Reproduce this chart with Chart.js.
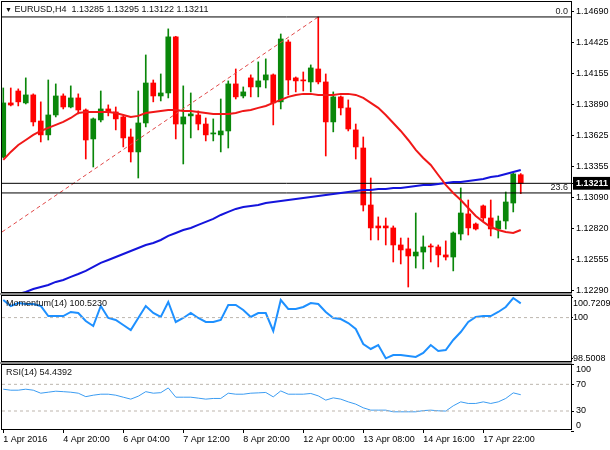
<!DOCTYPE html>
<html>
<head>
<meta charset="utf-8">
<title>EURUSD H4</title>
<script src="https://cdn.jsdelivr.net/npm/chart.js"></script>
<style>
  body { margin: 0; background: #fff; }
  #wrap { position: relative; width: 610px; height: 450px; overflow: hidden; font-family: "Liberation Sans", Arial, sans-serif; }
  canvas { position: absolute; left: 0; }
  .split { position: absolute; left: 0; width: 572px; height: 2px; background: #8c8c8c; }
  .lbl { position: absolute; font-size: 9px; line-height: 11px; color: #111; white-space: pre; }
</style>
</head>
<body>
<div id="wrap">
  <div class="split" style="top:293px"></div>
  <div class="split" style="top:362px"></div>
  <canvas id="main" width="610" height="297" style="top:0"></canvas>
  <canvas id="mom" width="610" height="68" style="top:295px"></canvas>
  <canvas id="rsi" width="610" height="86" style="top:364px"></canvas>
  <div class="lbl" id="mainTitle" style="left:5px;top:4px"></div>
  <div class="lbl" id="momTitle" style="left:6px;top:298px"></div>
  <div class="lbl" id="rsiTitle" style="left:6px;top:367px"></div>
</div>
<script>
// EURUSD H4, 70 bars, 1 Apr 16:00 -> 18 Apr 2016
var symbol = 'EURUSD,H4';

var opens = [
  1.13439, 1.13905, 1.14008, 1.13905, 1.13974, 1.13749, 1.13629, 1.13801, 1.13965, 1.13870,
  1.13948, 1.13844, 1.13594, 1.13758, 1.13853, 1.13827, 1.13784, 1.13611, 1.13482, 1.13732,
  1.14077, 1.13965, 1.13991, 1.14475, 1.13723, 1.13793, 1.13801, 1.13723, 1.13637, 1.13629,
  1.13663, 1.14069, 1.13965, 1.14121, 1.14043, 1.14103, 1.14147, 1.13914, 1.14431, 1.14121,
  1.14103, 1.14086, 1.14198, 1.14086, 1.13741, 1.13957, 1.13862, 1.13672, 1.13516, 1.13024,
  1.12843, 1.12843, 1.12826, 1.12679, 1.12645, 1.12584, 1.12618, 1.12670, 1.12662, 1.12593,
  1.12575, 1.12774, 1.12947, 1.12860, 1.13016, 1.12912, 1.12817, 1.12886, 1.13041, 1.13285
];
var highs = [
  1.14034, 1.14034, 1.14026, 1.14121, 1.13983, 1.13914, 1.14103, 1.14069, 1.13983, 1.14052,
  1.13983, 1.13853, 1.13775, 1.14008, 1.13888, 1.13870, 1.13793, 1.13680, 1.14008, 1.14319,
  1.14103, 1.14155, 1.14544, 1.14480, 1.14052, 1.13991, 1.13836, 1.13775, 1.13767, 1.13939,
  1.14095, 1.14198, 1.14043, 1.14147, 1.14259, 1.14285, 1.14155, 1.14500, 1.14449, 1.14129,
  1.14172, 1.14233, 1.14647, 1.14155, 1.14000, 1.13965, 1.13931, 1.13723, 1.13611, 1.13257,
  1.12921, 1.12912, 1.12843, 1.12739, 1.12739, 1.12955, 1.12757, 1.12688, 1.12679, 1.12714,
  1.12791, 1.13171, 1.13067, 1.12869, 1.13024, 1.13067, 1.12929, 1.13136, 1.13300, 1.13295
];
var lows = [
  1.13430, 1.13879, 1.13879, 1.13896, 1.13706, 1.13568, 1.13585, 1.13784, 1.13853, 1.13862,
  1.13810, 1.13421, 1.13352, 1.13741, 1.13793, 1.13672, 1.13525, 1.13395, 1.13257, 1.13698,
  1.13914, 1.13922, 1.13948, 1.13594, 1.13378, 1.13603, 1.13672, 1.13577, 1.13577, 1.13482,
  1.13516, 1.13939, 1.13948, 1.13957, 1.13957, 1.14034, 1.13715, 1.13853, 1.13974, 1.14000,
  1.14008, 1.14000, 1.14069, 1.13447, 1.13655, 1.13801, 1.13663, 1.13421, 1.12972, 1.12722,
  1.12722, 1.12679, 1.12532, 1.12515, 1.12316, 1.12480, 1.12472, 1.12532, 1.12489, 1.12549,
  1.12455, 1.12722, 1.12765, 1.12808, 1.12886, 1.12757, 1.12739, 1.12817, 1.12964, 1.13122
];
var closes = [
  1.13905, 1.13887, 1.13914, 1.13974, 1.13741, 1.13629, 1.13801, 1.13965, 1.13870, 1.13948,
  1.13844, 1.13585, 1.13767, 1.13853, 1.13827, 1.13767, 1.13603, 1.13482, 1.13732, 1.14077,
  1.13965, 1.13991, 1.14475, 1.13723, 1.13784, 1.13810, 1.13723, 1.13629, 1.13646, 1.13663,
  1.14069, 1.13957, 1.14000, 1.14043, 1.14095, 1.14147, 1.13905, 1.14457, 1.14103, 1.14095,
  1.14095, 1.14207, 1.14086, 1.13741, 1.13957, 1.13862, 1.13680, 1.13525, 1.13024, 1.12826,
  1.12826, 1.12826, 1.12679, 1.12636, 1.12584, 1.12618, 1.12662, 1.12662, 1.12593, 1.12575,
  1.12782, 1.12955, 1.12826, 1.12817, 1.12912, 1.12817, 1.12886, 1.13050, 1.13292, 1.13211
];

// moving averages (red fast, blue slow)
var maFast = [
  1.13413, 1.13482, 1.13542, 1.13585, 1.13629, 1.13663, 1.13689, 1.13715, 1.13741, 1.13775,
  1.13818, 1.13827, 1.13827, 1.13827, 1.13827, 1.13818, 1.13801, 1.13784, 1.13793, 1.13818,
  1.13827, 1.13836, 1.13844, 1.13844, 1.13836, 1.13836, 1.13827, 1.13818, 1.13810, 1.13810,
  1.13810, 1.13818, 1.13836, 1.13844, 1.13862, 1.13879, 1.13905, 1.13931, 1.13957, 1.13974,
  1.13983, 1.13983, 1.13974, 1.13974, 1.13974, 1.13983, 1.13983, 1.13974, 1.13948, 1.13905,
  1.13862, 1.13801, 1.13732, 1.13663, 1.13585, 1.13499, 1.13430, 1.13370, 1.13283, 1.13197,
  1.13128, 1.13067, 1.12998, 1.12929, 1.12878, 1.12834, 1.12808, 1.12791, 1.12782, 1.12808
];
var maSlow = [
  1.12204, 1.12230, 1.12256, 1.12273, 1.12299, 1.12316, 1.12334, 1.12360, 1.12377, 1.12403,
  1.12428, 1.12455, 1.12489, 1.12524, 1.12549, 1.12575, 1.12601, 1.12627, 1.12653, 1.12679,
  1.12696, 1.12722, 1.12757, 1.12782, 1.12808, 1.12826, 1.12852, 1.12878, 1.12904, 1.12938,
  1.12964, 1.12990, 1.13007, 1.13016, 1.13024, 1.13041, 1.13050, 1.13059, 1.13067, 1.13076,
  1.13085, 1.13093, 1.13102, 1.13111, 1.13119, 1.13128, 1.13136, 1.13145, 1.13154, 1.13154,
  1.13162, 1.13162, 1.13171, 1.13171, 1.13180, 1.13188, 1.13197, 1.13197, 1.13206, 1.13214,
  1.13223, 1.13223, 1.13231, 1.13240, 1.13249, 1.13266, 1.13275, 1.13292, 1.13309, 1.13326
];

var momentum = [
  100.647, 100.427, 100.537, 100.500, 100.500, 100.427, 100.058, 100.058, 100.058, 100.206,
  100.169, 99.875, 99.691, 100.427, 99.985, 99.911, 99.727, 99.543, 99.985, 100.427,
  100.169, 100.022, 100.574, 99.838, 99.985, 100.169, 99.985, 99.838, 99.838, 99.911,
  100.463, 100.463, 100.279, 100.022, 100.169, 100.169, 99.507, 100.647, 100.316, 100.316,
  100.390, 100.537, 100.500, 100.206, 99.985, 99.948, 99.801, 99.580, 99.028, 98.844,
  98.991, 98.5008, 98.623, 98.623, 98.586, 98.550, 98.697, 98.991, 98.770, 98.807,
  99.175, 99.470, 99.838, 100.022, 100.058, 100.058, 100.206, 100.390, 100.7209, 100.5230
];
var rsi = [
  62.7, 61.2, 61.2, 62.7, 61.2, 56.7, 58.2, 59.7, 59.0, 58.2,
  56.7, 51.5, 53.7, 55.2, 55.2, 53.7, 50.7, 47.8, 52.2, 59.0,
  56.7, 57.5, 64.6, 50.7, 50.7, 50.7, 49.3, 47.8, 48.8, 48.8,
  56.7, 55.2, 55.2, 56.7, 57.2, 57.8, 51.2, 60.1, 55.2, 55.2,
  55.2, 56.3, 52.7, 46.3, 49.7, 47.8, 43.7, 40.3, 34.8, 31.3,
  31.3, 31.3, 28.8, 28.8, 28.8, 28.8, 30.6, 31.3, 30.3, 29.9,
  37.8, 43.7, 41.3, 41.3, 43.7, 41.3, 43.7, 48.8, 57.2, 54.4392
];

// fibonacci tool: anchor line and levels
var trendX = [-0.17, 42];
var trendY = [1.12791, 1.14647];
var fibLevels = [1.14647, 1.13128];
var fibNames = ['0.0', '23.6'];

// axes
var priceTicks = [1.14690, 1.14425, 1.14155, 1.13890, 1.13625, 1.13355, 1.13090, 1.12820, 1.12555, 1.12290];
var momTicks = [100.7209, 100, 98.5008];
var momTickText = ['100.7209', '100', '98.5008'];
var momLevels = [100];
var rsiTicks = [100, 70, 30, 0];
var rsiLevels = [70, 30];
var timeTickBars = [0, 8, 16, 24, 32, 40, 48, 56, 64];
var timeLabels = ['1 Apr 2016', '4 Apr 20:00', '6 Apr 04:00', '7 Apr 12:00', '8 Apr 20:00',
                  '12 Apr 00:00', '13 Apr 08:00', '14 Apr 16:00', '17 Apr 22:00'];

var xMin = -0.17, xMax = 75.7;
var UP = '#0a870a', DOWN = '#ff0000';
var n = closes.length - 1;
var lastClose = closes[n];

Chart.defaults.font.family = '"Liberation Sans", Arial, sans-serif';
Chart.defaults.font.size = 9;
Chart.defaults.color = '#000';

function pts(arr) { return arr.map(function (v, i) { return {x: i, y: v}; }); }
function hline(v) { return [{x: xMin, y: v}, {x: xMax, y: v}]; }

var frame = {
  id: 'frame',
  afterDraw: function (chart) {
    var a = chart.chartArea, ctx = chart.ctx;
    ctx.save();
    ctx.strokeStyle = '#000';
    ctx.lineWidth = 1;
    ctx.strokeRect(a.left - 0.5, a.top - 0.5, a.right - a.left + 1, a.bottom - a.top + 1);
    ctx.restore();
  }
};

var fibText = {
  id: 'fibText',
  afterDatasetsDraw: function (chart) {
    var a = chart.chartArea, ctx = chart.ctx, y = chart.scales.y;
    ctx.save();
    ctx.font = '9px "Liberation Sans", Arial, sans-serif';
    ctx.fillStyle = '#222';
    ctx.textAlign = 'right';
    ctx.textBaseline = 'bottom';
    fibLevels.forEach(function (lv, k) {
      ctx.fillText(fibNames[k], a.right - 3, y.getPixelForValue(lv) - 1);
    });
    ctx.restore();
  }
};

var candleColor = closes.map(function (c, i) { return c >= opens[i] ? UP : DOWN; });

// right price axis, fixed width, no label overhang padding (MT4 panels sit edge to edge)
var rightAxis = function (extra) {
  var base = {
    position: 'right',
    bounds: 'data',
    beginAtZero: false,
    afterFit: function (s) { s.width = 39; s.paddingTop = 0; s.paddingBottom = 0; },
    grid: { drawOnChartArea: false, tickLength: 3, color: '#000' },
    border: { display: false },
    ticks: { autoSkip: false, padding: 2 }
  };
  return Object.assign(base, extra);
};

var hiddenX = { type: 'linear', display: false, min: xMin, max: xMax, offset: false };

// ---------- price panel ----------
new Chart(document.getElementById('main'), {
  type: 'bar',
  data: {
    datasets: [
      { type: 'line', data: pts(maFast), borderColor: '#f01818', borderWidth: 2, pointRadius: 0, order: 0 },
      { type: 'line', data: pts(maSlow), borderColor: '#1414dc', borderWidth: 2, pointRadius: 0, order: 0 },
      { type: 'line', data: hline(lastClose), borderColor: '#000', borderWidth: 1, pointRadius: 0, order: 1 },
      { type: 'line', data: hline(fibLevels[0]), borderColor: '#000', borderWidth: 1, pointRadius: 0, order: 1 },
      { type: 'line', data: hline(fibLevels[1]), borderColor: '#000', borderWidth: 1, pointRadius: 0, order: 1 },
      { type: 'line', data: trendX.map(function (x, i) { return {x: x, y: trendY[i]}; }),
        borderColor: '#e04848', borderWidth: 1, borderDash: [4, 3], pointRadius: 0, order: 1 },
      { data: opens.map(function (o, i) { return {x: i, y: [o, closes[i]]}; }),
        backgroundColor: candleColor, barThickness: 5, minBarLength: 1, grouped: false, order: 2 },
      { data: lows.map(function (l, i) { return {x: i, y: [l, highs[i]]}; }),
        backgroundColor: candleColor, barThickness: 1, grouped: false, order: 3 }
    ]
  },
  options: {
    responsive: false,
    animation: false,
    layout: { padding: { left: 2, top: 2, bottom: 5, right: 0 } },
    plugins: { legend: { display: false }, tooltip: { enabled: false } },
    scales: {
      x: hiddenX,
      y: rightAxis({
        min: 1.12273, max: 1.14776,
        afterBuildTicks: function (s) {
          s.ticks = priceTicks.concat([lastClose]).map(function (v) { return {value: v}; });
        },
        ticks: {
          autoSkip: false, padding: 2,
          callback: function (v) { return v.toFixed(5); },
          color: function (c) { return c.tick && c.tick.value === lastClose ? '#fff' : '#000'; },
          font: function (c) { return c.tick && c.tick.value === lastClose ? {weight: 'bold'} : {}; },
          showLabelBackdrop: function (c) { return !!(c.tick && c.tick.value === lastClose); },
          backdropColor: '#000',
          backdropPadding: { top: 1, bottom: 1, left: 3, right: 4 }
        }
      })
    }
  },
  plugins: [frame, fibText]
});

// ---------- momentum panel ----------
new Chart(document.getElementById('mom'), {
  type: 'line',
  data: {
    datasets: [
      { data: hline(momLevels[0]), borderColor: '#bdb6ae', borderWidth: 1, borderDash: [3, 3], pointRadius: 0 },
      { data: pts(momentum), borderColor: '#1e90ff', borderWidth: 2, pointRadius: 0 }
    ]
  },
  options: {
    responsive: false,
    animation: false,
    layout: { padding: { left: 2, top: 1, bottom: 2, right: 0 } },
    plugins: { legend: { display: false }, tooltip: { enabled: false } },
    scales: {
      x: hiddenX,
      y: rightAxis({
        min: 98.4025, max: 100.7945,
        afterBuildTicks: function (s) {
          s.ticks = momTicks.map(function (v) { return {value: v}; });
        },
        grid: { drawOnChartArea: false, tickLength: 2, color: '#000' },
        ticks: {
          autoSkip: false, padding: 0,
          callback: function (v, i) { return i === 0 ? ['', momTickText[i]] : momTickText[i]; }
        }
      })
    }
  },
  plugins: [frame]
});

// ---------- RSI panel ----------
new Chart(document.getElementById('rsi'), {
  type: 'line',
  data: {
    datasets: [
      { data: hline(rsiLevels[0]), borderColor: '#bdb6ae', borderWidth: 1, borderDash: [3, 3], pointRadius: 0 },
      { data: hline(rsiLevels[1]), borderColor: '#bdb6ae', borderWidth: 1, borderDash: [3, 3], pointRadius: 0 },
      { data: pts(rsi), borderColor: '#3b9cf2', borderWidth: 1, pointRadius: 0 }
    ]
  },
  options: {
    responsive: false,
    animation: false,
    layout: { padding: { left: 2, top: 1, bottom: 0, right: 0 } },
    plugins: { legend: { display: false }, tooltip: { enabled: false } },
    scales: {
      x: {
        type: 'linear', min: xMin, max: xMax, offset: false,
        afterFit: function (s) { s.height = 21; s.paddingLeft = 0; s.paddingRight = 0; },
        afterBuildTicks: function (s) {
          s.ticks = timeTickBars.map(function (v) { return {value: v}; });
        },
        grid: { drawOnChartArea: false, tickLength: 4, color: '#000' },
        border: { display: false },
        ticks: {
          autoSkip: false, maxRotation: 0, minRotation: 0, align: 'start', padding: 1,
          callback: function (v, i) { return timeLabels[i]; }
        }
      },
      y: rightAxis({
        min: 3, max: 99,
        afterBuildTicks: function (s) {
          s.ticks = rsiTicks.map(function (v) { return {value: v}; });
        },
        ticks: {
          autoSkip: false, padding: 2,
          callback: function (v, i) {
            if (i === 0) return ['', String(v)];
            if (i === rsiTicks.length - 1) return [String(v), ''];
            return String(v);
          }
        }
      })
    }
  },
  plugins: [frame]
});

// panel captions
var t = document.getElementById('mainTitle');
var arrow = document.createElement('span');
arrow.style.fontSize = '7px';
arrow.textContent = '\u25BC';
t.appendChild(arrow);
t.appendChild(document.createTextNode(' ' + symbol + '  ' +
  [opens[n], highs[n], lows[n], closes[n]].map(function (v) { return v.toFixed(5); }).join(' ')));
document.getElementById('momTitle').textContent = 'Momentum(14) ' + momentum[n].toFixed(4);
document.getElementById('rsiTitle').textContent = 'RSI(14) ' + rsi[n].toFixed(4);
</script>
</body>
</html>
